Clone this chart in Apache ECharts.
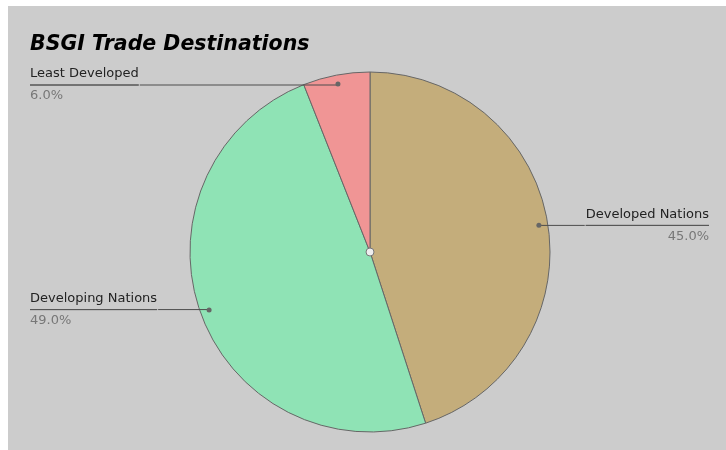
<!DOCTYPE html>
<html>
<head>
<meta charset="utf-8">
<script src="https://cdn.jsdelivr.net/npm/echarts@6/dist/echarts.min.js"></script>
<style>
  html, body { margin: 0; padding: 0; background: #ffffff; overflow: hidden; }
  #chart { position: absolute; left: 8px; top: 6px; width: 723px; height: 444px; background: #cccccc; }
</style>
</head>
<body>
<div id="chart"></div>
<script>
const categories = ['Developed Nations', 'Developing Nations', 'Least Developed']
const shares = [45, 49, 6]
const colors = ['#c4ad7b', '#8fe3b5', '#f09595']

const chart = echarts.init(document.getElementById('chart'))
const font = 'DejaVu Sans'
const center = [362, 246]
const pieData = categories.map((name, i) => ({ name, value: shares[i] }))

const option = {
  backgroundColor: 'transparent',
  animation: false,
  title: {
    text: 'BSGI Trade Destinations',
    left: 22,
    top: 29,
    padding: 0,
    textStyle: {
      fontFamily: font,
      fontSize: 20.5,
      fontWeight: 'bold',
      fontStyle: 'italic',
      color: '#000'
    }
  },
  series: [
    {
      // main pie
      type: 'pie',
      z: 1,
      center: center,
      radius: 180,
      startAngle: 90,
      clockwise: true,
      silent: true,
      label: { show: false },
      labelLine: { show: false },
      itemStyle: { borderColor: '#666', borderWidth: 1 },
      data: pieData.map((d, i) => ({ ...d, itemStyle: { color: colors[i] } }))
    },
    {
      // labels with lines
      type: 'pie',
      z: 2,
      center: center,
      radius: 170,
      startAngle: 90,
      silent: true,
      itemStyle: { color: 'transparent' },
      label: {
        show: true,
        position: 'outer',
        alignTo: 'edge',
        edgeDistance: 22,
        distanceToLabelLine: 0,
        fontFamily: font,
        formatter: p => '{a|' + p.name + '}\n{hr|}\n{c|' + p.percent.toFixed(1) + '%}',
        rich: {
          a: { fontSize: 13, color: '#222', lineHeight: 22, fontFamily: font },
          hr: { width: '100%', height: 0, borderColor: '#555', borderWidth: 1 },
          c: { fontSize: 13, color: '#777', lineHeight: 22, fontFamily: font }
        }
      },
      labelLine: {
        show: true,
        length: 0,
        length2: 10,
        lineStyle: { color: '#4d4d4d', width: 1 }
      },
      data: pieData
    },
    {
      // dots where the label lines start
      type: 'pie',
      z: 3,
      center: center,
      radius: [164, 172],
      startAngle: 90,
      silent: true,
      itemStyle: { color: 'transparent' },
      label: {
        show: true,
        position: 'inside',
        formatter: '{d|}',
        rich: { d: { width: 5, height: 5, borderRadius: 2.5, backgroundColor: '#666' } }
      },
      labelLine: { show: false },
      data: pieData
    },
    {
      // centre marker
      type: 'pie',
      z: 3,
      center: center,
      radius: 4,
      silent: true,
      label: { show: false },
      labelLine: { show: false },
      itemStyle: { color: '#eeeeee', borderColor: '#777', borderWidth: 1 },
      data: [{ name: 'centre', value: 1 }]
    }
  ]
}

chart.setOption(option)
</script>
</body>
</html>
